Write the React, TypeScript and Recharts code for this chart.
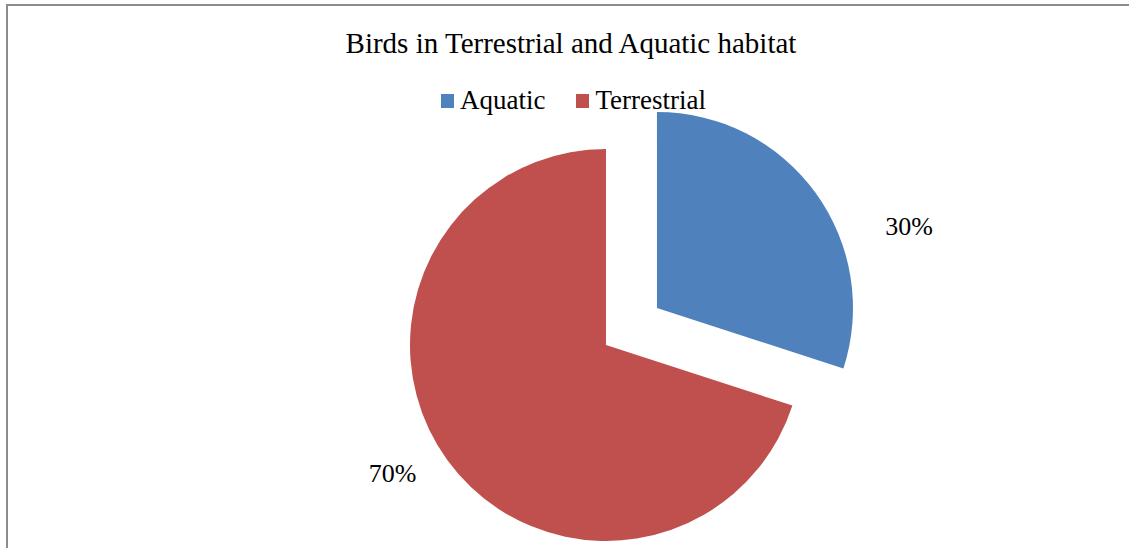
import { PieChart, Pie, Cell, Legend } from 'recharts';

const categories = ['Aquatic', 'Terrestrial'];
const values = [30, 70];
const labels = ['30%', '70%'];
const colors = ['#4F81BD', '#C0504D'];

const data = categories.map((name, i) => ({ name, value: values[i], label: labels[i] }));

const W = 1129;
const H = 548;
const CX = 606;
const CY = 345;
const R = 196;
const EXPLODE = 63; // how far the Aquatic slice is pulled out
const FONT = '"Liberation Serif", "Times New Roman", serif';

// midAngle of the first slice, recharts convention (90 = top, clockwise going down)
const total = values.reduce((a, b) => a + b, 0);
const aquaticMid = 90 - (values[0] / total) * 180;
const rad = Math.PI / 180;
const CX2 = CX + EXPLODE * Math.cos(aquaticMid * rad);
const CY2 = CY - EXPLODE * Math.sin(aquaticMid * rad);

// Excel "best fit" label spots: angle shift and distance beyond the rim
const labelShift = [-18, -5];
const labelGap = [69, 53];

const makeLabel = (which: number) => (props: any) => {
  const { cx, cy, midAngle, outerRadius, index } = props;
  if (index !== which) return null;
  const a = (midAngle + labelShift[index]) * rad;
  const r = outerRadius + labelGap[index];
  const x = cx + r * Math.cos(a);
  const y = cy - r * Math.sin(a);
  return (
    <text x={x} y={y} textAnchor="middle" dominantBaseline="central" fill="#000" fontSize={26} fontFamily={FONT}>
      {data[index].label}
    </text>
  );
};

const LegendContent = () => (
  <div style={{ display: 'flex', justifyContent: 'center', fontFamily: FONT, fontSize: 27, lineHeight: '27px', color: '#000' }}>
    {categories.map((c, i) => (
      <div key={c} style={{ display: 'flex', alignItems: 'center', marginLeft: i ? 31 : 0 }}>
        <span style={{ width: 13, height: 14, background: colors[i], marginRight: 6, display: 'inline-block' }} />
        <span>{c}</span>
      </div>
    ))}
  </div>
);

export default function App() {
  return (
    <div style={{ position: 'absolute', left: 0, top: 0, width: W, height: H, overflow: 'hidden', background: '#fff' }}>
      <div style={{ position: 'absolute', left: 6, top: 4, width: W + 10, height: H + 10, borderLeft: '2px solid #8c8c8c', borderTop: '2px solid #8c8c8c' }} />
      <div style={{ position: 'absolute', left: 0, top: 29, width: W + 13, textAlign: 'center', fontFamily: FONT, fontSize: 29, lineHeight: '29px', color: '#000' }}>
        Birds in Terrestrial and Aquatic habitat
      </div>
      <div style={{ position: 'absolute', left: 0, top: 0 }}>
        <PieChart width={W} height={H} margin={{ top: 0, right: 0, bottom: 0, left: 0 }}>
          <Pie data={data} dataKey="value" nameKey="name" cx={CX} cy={CY} outerRadius={R} startAngle={90} endAngle={-270}
            stroke="none" label={makeLabel(1)} labelLine={false} isAnimationActive={false}>
            {data.map((d, i) => <Cell key={d.name} fill={i === 1 ? colors[i] : 'transparent'} />)}
          </Pie>
          <Pie data={data} dataKey="value" nameKey="name" cx={CX2} cy={CY2} outerRadius={R} startAngle={90} endAngle={-270}
            stroke="none" label={makeLabel(0)} labelLine={false} isAnimationActive={false}>
            {data.map((d, i) => <Cell key={d.name} fill={i === 0 ? colors[i] : 'transparent'} />)}
          </Pie>
          <Legend verticalAlign="middle" content={LegendContent} wrapperStyle={{ top: 87, left: 9, width: W }} />
        </PieChart>
      </div>
    </div>
  );
}
